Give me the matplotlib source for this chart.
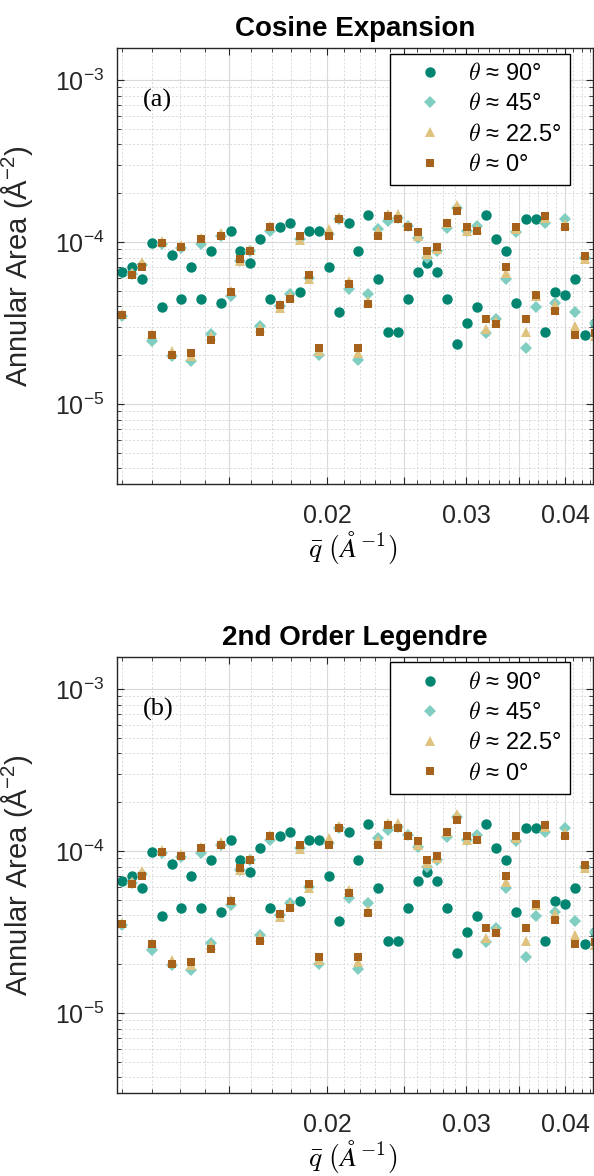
import matplotlib
matplotlib.use("Agg")
import matplotlib.pyplot as plt
import matplotlib.ticker as mticker
import numpy as np

plt.rcParams['font.family'] = ['Liberation Sans', 'DejaVu Sans']

# mean scattering vector of each annulus (1/Angstrom)
q = [0.01100, 0.01132, 0.01165, 0.01199, 0.01234, 0.01270, 0.01307, 0.01345,
     0.01384, 0.01424, 0.01466, 0.01508, 0.01552, 0.01597, 0.01644, 0.01692,
     0.01741, 0.01792, 0.01844, 0.01898, 0.01953, 0.02010, 0.02068, 0.02128,
     0.02190, 0.02254, 0.02320, 0.02387, 0.02457, 0.02528, 0.02602, 0.02677,
     0.02755, 0.02836, 0.02918, 0.03003, 0.03090, 0.03180, 0.03273, 0.03368,
     0.03466, 0.03567, 0.03671, 0.03778, 0.03888, 0.04001, 0.04118, 0.04237,
     0.04361]

# annular areas in units of 1e-4 A^-2
area_90 = [0.656, 0.701, 0.588, 0.981, 0.395, 0.827, 0.443, 0.698, 0.443, 0.876,
           0.418, 1.164, 0.876, 0.738, 1.039, 0.443, 1.232, 1.310, 0.494, 1.164,
           1.164, 0.698, 0.372, 1.310, 0.876, 1.468, 0.588, 0.280, 0.280, 0.443,
           0.656, 0.738, 0.656, 0.443, 0.236, 0.315, 0.395, 1.468, 1.039, 0.876,
           0.418, 1.387, 1.387, 0.280, 0.494, 0.469, 0.588, 0.265, 0.318]
area_45 = [0.349, 0.631, 0.718, 0.245, 0.967, 0.198, 0.923, 0.184, 0.967, 0.272,
           1.089, 0.464, 0.763, 0.876, 0.303, 1.169, 0.403, 0.475, 1.048, 0.602,
           0.200, 1.115, 1.380, 0.515, 0.186, 0.475, 1.197, 1.348, 1.413, 1.255,
           1.064, 0.800, 0.880, 1.226, 1.630, 1.169, 1.255, 0.275, 0.336, 0.588,
           1.153, 0.223, 0.395, 1.316, 0.418, 1.393, 0.370, 0.800, 0.318]
area_22 = [0.358, 0.647, 0.752, 0.269, 1.014, 0.212, 0.954, 0.198, 1.064, 0.263,
           1.131, 0.499, 0.763, 0.893, 0.296, 1.255, 0.393, 0.464, 1.024, 0.588,
           0.212, 1.197, 1.427, 0.574, 0.207, 0.432, 1.169, 1.482, 1.496, 1.255,
           1.089, 0.839, 0.901, 1.316, 1.684, 1.169, 1.197, 0.289, 0.326, 0.647,
           1.197, 0.280, 0.464, 1.413, 0.410, 1.285, 0.303, 0.782, 0.263]
area_0 = [0.353, 0.626, 0.701, 0.265, 0.981, 0.200, 0.931, 0.207, 1.039, 0.249,
          1.089, 0.491, 0.782, 0.876, 0.280, 1.238, 0.410, 0.443, 1.089, 0.626,
          0.223, 1.089, 1.387, 0.553, 0.223, 0.416, 1.089, 1.454, 1.387, 1.238,
          1.158, 0.876, 0.931, 1.310, 1.554, 1.238, 1.164, 0.333, 0.313, 0.698,
          1.238, 0.333, 0.471, 1.454, 0.373, 1.238, 0.265, 0.820, 0.275]

labels = [r'$\theta$ ≈ 90°', r'$\theta$ ≈ 45°', r'$\theta$ ≈ 22.5°', r'$\theta$ ≈ 0°']
colors = ['#018571', '#80cdc1', '#dfc27d', '#a6611a']
markers = ['o', 'D', '^', 's']
msizes = [7.5, 5.8, 7.5, 6.3]

xticks = [0.015, 0.02, 0.025, 0.03, 0.035, 0.04]
xticklabels = ['', '0.02', '', '0.03', '', '0.04']


def panel(ax, title, tag):
    series = [area_90, area_45, area_22, area_0]
    for s, lab, c, m, ms in zip(series, labels, colors, markers, msizes):
        ax.plot(q, np.array(s) * 1e-4, linestyle='none', marker=m, ms=ms,
                color=c, markeredgewidth=0, label=lab)
    ax.set_xscale('log')
    ax.set_yscale('log')
    ax.set_xlim(0.01082, 0.0434)
    ax.set_ylim(3.19e-6, 1.57e-3)

    ax.xaxis.set_major_locator(mticker.FixedLocator(xticks))
    ax.xaxis.set_major_formatter(mticker.FixedFormatter(xticklabels))
    ax.xaxis.set_minor_locator(mticker.FixedLocator(np.arange(11, 44) / 1000))
    ax.xaxis.set_minor_formatter(mticker.NullFormatter())
    ax.yaxis.set_minor_locator(mticker.LogLocator(base=10, subs=np.arange(2, 10)))
    ax.yaxis.set_minor_formatter(mticker.NullFormatter())

    ax.grid(True, which='major', color='#d9d9d9', linewidth=0.8, linestyle='-')
    ax.grid(True, which='minor', color='#d9d9d9', linewidth=0.7, linestyle=(0, (2, 2)))
    ax.set_axisbelow(True)

    ax.tick_params(which='both', direction='in', top=True, right=True,
                   colors='#262626', labelcolor='#262626')
    ax.tick_params(which='major', length=5, labelsize=18)
    ax.tick_params(which='minor', length=3)
    ax.tick_params(axis='x', which='major', pad=14)
    ax.tick_params(axis='y', which='major', pad=9)
    for sp in ax.spines.values():
        sp.set_color('#262626')
        sp.set_linewidth(1.0)

    ax.set_title(title, fontsize=20, fontweight='bold', pad=9)
    ax.set_ylabel('Annular Area (Å$^{\\mathdefault{-2}}$)', fontsize=21, color='#262626')
    ax.yaxis.set_label_coords(-0.172, 0.5)
    xl = ax.set_xlabel(r'$\bar{q}\ (\AA^{-1})$', fontsize=20)
    xl.set_math_fontfamily('cm')
    ax.xaxis.set_label_coords(0.496, -0.102)

    ax.text(0.055, 0.88, tag, transform=ax.transAxes, fontsize=19,
            family='Liberation Serif', va='center', ha='left')

    leg = ax.legend(loc='upper right', bbox_to_anchor=(0.952, 0.988), fontsize=17,
                    frameon=True, fancybox=False, framealpha=1, edgecolor='black',
                    handlelength=2.6, handletextpad=0.3, labelspacing=0.35,
                    borderpad=0.4, borderaxespad=0)
    leg.get_frame().set_linewidth(1.0)
    for t in leg.get_texts():
        t.set_math_fontfamily('cm')


fig = plt.figure(figsize=(5.94, 11.76), dpi=100)
ax1 = fig.add_axes([0.1965, 0.5882, 0.8018, 0.3707])
ax2 = fig.add_axes([0.1965, 0.0703, 0.8018, 0.3708])

panel(ax1, 'Cosine Expansion', '(a)')
panel(ax2, '2nd Order Legendre', '(b)')

fig.savefig('out.png', dpi=100)
